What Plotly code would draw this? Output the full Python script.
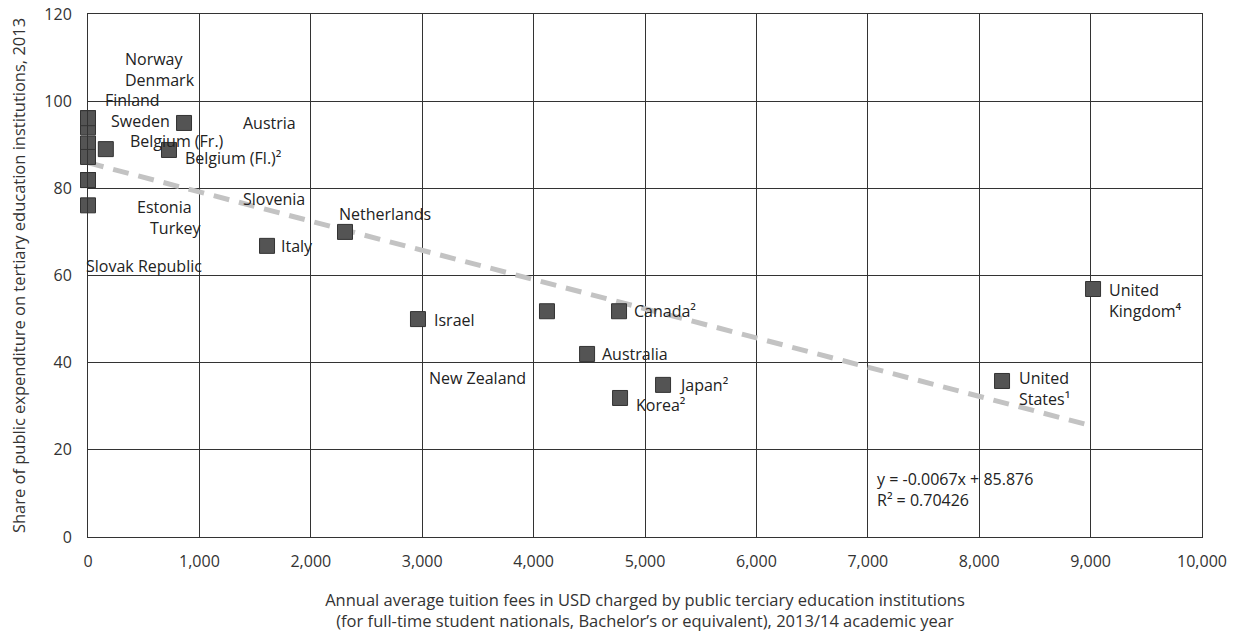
import plotly.graph_objects as go

countries = ["Norway", "Denmark", "Finland", "Sweden", "Slovenia", "Estonia", "Turkey",
             "Slovak Republic", "Belgium (Fr.)", "Belgium (Fl.)²", "Austria", "Italy",
             "Netherlands", "Israel", "New Zealand", "Canada²", "Australia", "Japan²",
             "Korea²", "United<br>States¹", "United<br>Kingdom⁴"]
fees = [0, 0, 0, 0, 0, 0, 0, 0, 160, 727, 862, 1607, 2307, 2962, 4120, 4767, 4480, 5162,
        4776, 8205, 9022]
shares = [96.1, 94.0, 96.1, 90.3, 87.2, 81.9, 81.9, 76.1, 89.0, 88.8, 95.0, 66.8, 70.0,
          50.0, 51.8, 51.8, 42.0, 34.9, 31.9, 35.8, 56.9]
# label offsets in pixels (layout only)
label_dx = [35, 35, 15, 21, 153, 47, 60, -4, 22, 14, 57, 12, -8, 14, -120, 13, 13, 14, 14, 15, 14]
label_dy = [59, 47, 18, 22, -42, -27, -48, -61, 8, -8, 0, 0, 18, -1, -67, 0, 0, 0, -7, -8, -11]

slope = -0.0067
intercept = 85.876
r2 = 0.70426

x_ticks = list(range(0, 10001, 1000))
y_ticks = list(range(0, 121, 20))

FONT = "Open Sans"
fig = go.Figure()

xmin, xmax = min(fees), max(fees)
fig.add_trace(go.Scatter(
    x=[xmin, xmax], y=[slope * xmin + intercept, slope * xmax + intercept],
    mode="lines", line=dict(color="#c3c3c3", width=5, dash="16px,10px"),
    hoverinfo="skip", showlegend=False, cliponaxis=False))

fig.add_trace(go.Scatter(
    x=fees, y=shares, mode="markers", text=countries, cliponaxis=False,
    marker=dict(symbol="square", size=15, color="#545454",
                line=dict(color="#333333", width=1)),
    showlegend=False))

for c, x, y, dx, dy in zip(countries, fees, shares, label_dx, label_dy):
    fig.add_annotation(x=x, y=y, text=c, showarrow=False, xanchor="left", yanchor="middle",
                       xshift=dx, yshift=dy, align="left",
                       font=dict(family=FONT, size=16, color="#222222"))

fig.add_annotation(x=7065, y=10.8, xref="x", yref="y", showarrow=False,
                   xanchor="left", yanchor="middle", align="left",
                   text=f"y = {slope}x + {intercept}<br>R² = {r2}",
                   font=dict(family=FONT, size=16, color="#222222"))

axis_common = dict(showgrid=True, gridcolor="#333333", gridwidth=1, zeroline=False,
                   showline=True, linecolor="#333333", linewidth=1, mirror=True,
                   automargin=False, ticklabeloverflow="allow",
                   ticks="", tickfont=dict(family=FONT, size=16, color="#333333"))

fig.update_xaxes(range=[0, 10000], tickvals=x_ticks,
                 ticktext=[f"{v:,}" for v in x_ticks], ticklabelstandoff=10,
                 title=dict(text="Annual average tuition fees in USD charged by public terciary education institutions<br>"
                                 "(for full-time student nationals, Bachelor’s or equivalent), 2013/14 academic year",
                            font=dict(family=FONT, size=16.5, color="#333333"), standoff=23),
                 **axis_common)
fig.update_yaxes(range=[0, 120], tickvals=y_ticks, ticklabelstandoff=12,
                 title=dict(text="Share of public expenditure on tertiary education institutions, 2013",
                            font=dict(family=FONT, size=16.5, color="#333333"), standoff=14),
                 **axis_common)

fig.update_layout(width=1240, height=632, margin=dict(l=88, r=38, t=14, b=95),
                  plot_bgcolor="white", paper_bgcolor="white",
                  font=dict(family=FONT, color="#333333"))

# remove the default 8px page margin so the figure fills the window exactly
fig.write_html("out.html", config={"displayModeBar": False},
               post_script="document.body.style.margin='0';")
